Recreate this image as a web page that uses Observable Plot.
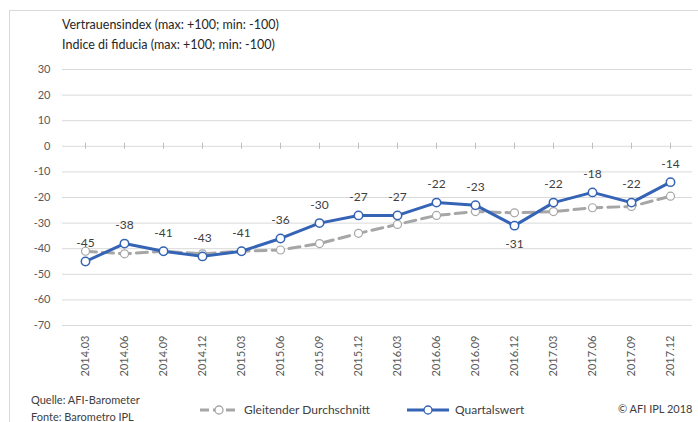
<!DOCTYPE html>
<html>
<head>
<meta charset="utf-8">
<script src="https://cdn.jsdelivr.net/npm/d3@7"></script>
<script src="https://cdn.jsdelivr.net/npm/@observablehq/plot@0.6"></script>
<style>
  body { margin: 0; background: #fff; }
  #wrap { position: relative; width: 698px; height: 422px; overflow: hidden; font-family: Lato, "Open Sans", sans-serif; color: #404040; }
  #frame { position: absolute; left: 9px; top: 10px; width: 700px; height: 430px; border-top: 1px solid #d9d9d9; border-left: 1px solid #d9d9d9; }
  #title { position: absolute; left: 62px; top: 15px; font-size: 12.5px; line-height: 20px; color: #262626; }
  #chart { position: absolute; left: 0; top: 0; }
  .foot { position: absolute; font-size: 11px; color: #404040; white-space: nowrap; }
  .leg { display: flex; align-items: center; font-size: 12px; }
  .leg svg { margin-right: 6px; }
</style>
</head>
<body>
<div id="wrap">
  <div id="frame"></div>
  <div id="chart"></div>
  <div id="title">Vertrauensindex (max: +100; min: -100)<br>Indice di fiducia (max: +100; min: -100)</div>
  <div class="foot" style="left:31px; top:391px; line-height:17px;">Quelle: AFI-Barometer<br>Fonte: Barometro IPL</div>
  <div class="foot leg" id="leg1" style="left:200px; top:402px;"></div>
  <div class="foot leg" id="leg2" style="left:407px; top:402px;"></div>
  <div class="foot" style="left:618px; top:402px;">© AFI IPL 2018</div>
</div>
<script>
const categories = ["2014.03","2014.06","2014.09","2014.12","2015.03","2015.06","2015.09","2015.12","2016.03","2016.06","2016.09","2016.12","2017.03","2017.06","2017.09","2017.12"];
const quartalswert = [-45,-38,-41,-43,-41,-36,-30,-27,-27,-22,-23,-31,-22,-18,-22,-14];
const gleitenderDurchschnitt = [-41,-42,-41,-42,-41,-40.5,-38,-34,-30.5,-27,-25.5,-26,-25.5,-24,-23.5,-19.5];
const yTicks = [30,20,10,0,-10,-20,-30,-40,-50,-60,-70];
const labelsBelow = ["2016.12"];

const blue = "#3563b5";
const gray = "#a6a6a6";

const data = categories.map((c, i) => ({cat: c, q: quartalswert[i], avg: gleitenderDurchschnitt[i]}));

const chart = Plot.plot({
  width: 698,
  height: 422,
  marginTop: 69,
  marginBottom: 97,
  marginLeft: 62,
  marginRight: 6,
  x: {type: "point", domain: categories, padding: 0.5, label: null},
  y: {domain: [-70, 30], label: null},
  style: {fontFamily: "Lato, 'Open Sans', sans-serif", fontSize: "11px", color: "#595959", background: "transparent"},
  marks: [
    Plot.ruleY(yTicks, {stroke: "#d9d9d9", strokeWidth: 1}),
    Plot.ruleX(categories, {x: d => d, y1: -1.2, y2: 1.2, stroke: "#bfbfbf"}),
    Plot.axisY({ticks: yTicks, tickSize: 0, tickPadding: 12, tickFormat: d => String(d), fontSize: 11}),
    Plot.axisX({tickRotate: -90, tickSize: 0, tickPadding: 10, fontSize: 11}),
    Plot.line(data, {x: "cat", y: "avg", stroke: gray, strokeWidth: 3, strokeDasharray: "11,6"}),
    Plot.dot(data, {x: "cat", y: "avg", r: 4, fill: "white", stroke: gray, strokeWidth: 1.2}),
    Plot.line(data, {x: "cat", y: "q", stroke: blue, strokeWidth: 3}),
    Plot.dot(data, {x: "cat", y: "q", r: 4.2, fill: "white", stroke: blue, strokeWidth: 1.5}),
    Plot.text(data.filter(d => !labelsBelow.includes(d.cat)), {x: "cat", y: "q", text: d => String(d.q), dy: -18, fill: "#404040", fontSize: 12}),
    Plot.text(data.filter(d => labelsBelow.includes(d.cat)), {x: "cat", y: "q", text: d => String(d.q), dy: 18, fill: "#404040", fontSize: 12})
  ]
});
document.getElementById("chart").appendChild(chart);

function legendItem(id, color, dashed, label, w) {
  const el = document.getElementById(id);
  const dash = dashed ? 'stroke-dasharray="9,4"' : '';
  const cx = w / 2;
  el.innerHTML = `<svg width="${w}" height="12"><line x1="0" y1="6" x2="${w}" y2="6" stroke="${color}" stroke-width="3" ${dash}/><circle cx="${cx}" cy="6" r="4" fill="white" stroke="${color}" stroke-width="1.3"/></svg><span>${label}</span>`;
}
legendItem("leg1", gray, true, "Gleitender Durchschnitt", 38);
legendItem("leg2", blue, false, "Quartalswert", 42);
</script>
</body>
</html>
